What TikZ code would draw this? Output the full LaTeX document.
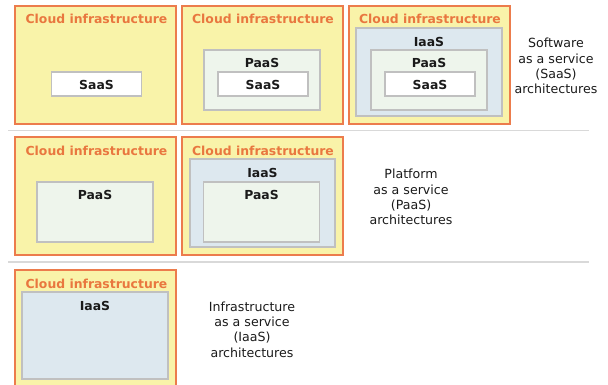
\documentclass[tikz,border=0pt]{standalone}
\usepackage{fontspec}
\setmainfont{DejaVu Sans}
\definecolor{cloudfill}{HTML}{F9F3A9}
\definecolor{cloudline}{HTML}{EC7C4C}
\definecolor{titlecol}{HTML}{E9773F}
\definecolor{iaasfill}{HTML}{DDE8EF}
\definecolor{paasfill}{HTML}{EEF5EC}
\definecolor{grayline}{HTML}{C0C0C0}
\definecolor{sepcol}{HTML}{D9D9D9}
\definecolor{txt}{HTML}{1A1A1A}
\tikzset{
  box/.style={rectangle, inner sep=0pt, outer sep=0pt},
  cloud/.style={box, draw=cloudline, fill=cloudfill, line width=1.6pt, minimum width=161pt, minimum height=118pt},
  iaas/.style={box, draw=grayline, fill=iaasfill, line width=1.3pt},
  paas/.style={box, draw=grayline, fill=paasfill, line width=1.3pt, minimum width=116pt, minimum height=60pt},
  saas/.style={box, draw=grayline, fill=white, line width=1.3pt, minimum width=90pt, minimum height=24pt},
  ttl/.style={anchor=base, inner sep=0pt, text=titlecol, font=\fontsize{12.4}{15.3}\selectfont\bfseries},
  lbl/.style={anchor=base, inner sep=0pt, text=txt, font=\fontsize{12.4}{15.3}\selectfont\bfseries},
  desc/.style={inner sep=0pt, align=center, text=txt, font=\fontsize{12.6}{15.3}\selectfont},
  sep/.style={draw=sepcol, line width=1.8pt}
}
\begin{document}
\begin{tikzpicture}[x=1pt, y=-1pt]
\useasboundingbox (0,0) rectangle (608,385);
% ---------- Row 1 ----------
\node[cloud] (c11) at (95.5,65) {};
\node[ttl] (t11) at (96.5,24) {Cloud infrastructure};
\node[saas] (s11) at (96.5,84) {};
\node[lbl] (ls11) at (96.5,90) {SaaS};

\node[cloud] (c12) at (262.5,65) {};
\node[ttl] (t12) at (263,24) {Cloud infrastructure};
\node[paas] (p12) at (262,80) {};
\node[lbl] (lp12) at (262,67.5) {PaaS};
\node[saas] (s12) at (263,84) {};
\node[lbl] (ls12) at (263,90) {SaaS};

\node[cloud] (c13) at (429.5,65) {};
\node[ttl] (t13) at (430,24) {Cloud infrastructure};
\node[iaas, minimum width=146pt, minimum height=88pt] (i13) at (429,72) {};
\node[lbl] (li13) at (429,47) {IaaS};
\node[paas] (p13) at (429,80) {};
\node[lbl] (lp13) at (429,67.5) {PaaS};
\node[saas] (s13) at (430,84) {};
\node[lbl] (ls13) at (430,90) {SaaS};

\node[desc] (d1) at (556,66) {Software\\as a service\\(SaaS)\\architectures};

\coordinate (sep1a) at (8,130.5);
\coordinate (sep1b) at (589,130.5);
\draw[sep] (sep1a) -- (sep1b);

% ---------- Row 2 ----------
\node[cloud] (c21) at (95.5,196) {};
\node[ttl] (t21) at (96.5,156) {Cloud infrastructure};
\node[paas] (p21) at (95,212) {};
\node[lbl] (lp21) at (95,200) {PaaS};

\node[cloud] (c22) at (262.5,196) {};
\node[ttl] (t22) at (263,156) {Cloud infrastructure};
\node[iaas, minimum width=145pt, minimum height=88pt] (i22) at (262.5,203) {};
\node[lbl] (li22) at (262.5,178) {IaaS};
\node[paas] (p22) at (261.5,212) {};
\node[lbl] (lp22) at (261.5,200) {PaaS};

\node[desc] (d2) at (411,197) {Platform\\as a service\\(PaaS)\\architectures};

\coordinate (sep2a) at (8,262);
\coordinate (sep2b) at (589,262);
\draw[sep] (sep2a) -- (sep2b);

% ---------- Row 3 ----------
\node[cloud] (c31) at (95.5,329) {};
\node[ttl] (t31) at (96.5,288) {Cloud infrastructure};
\node[iaas, minimum width=146pt, minimum height=87pt] (i31) at (95,335.5) {};
\node[lbl] (li31) at (95,310) {IaaS};

\node[desc] (d3) at (252,329.5) {Infrastructure\\as a service\\(IaaS)\\architectures};
\end{tikzpicture}
\end{document}
